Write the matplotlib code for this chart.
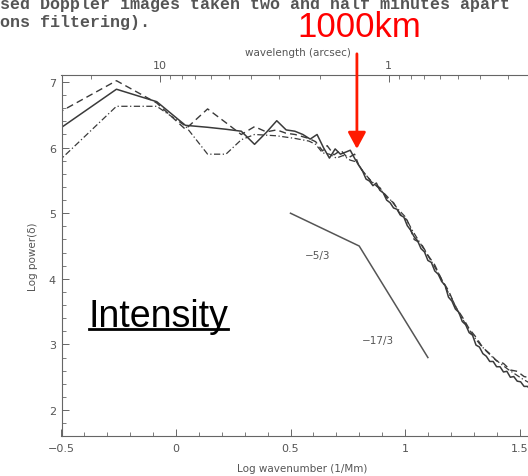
import matplotlib
matplotlib.use("Agg")
import matplotlib.pyplot as plt
from matplotlib.lines import Line2D
from matplotlib.ticker import MultipleLocator
import numpy as np

# ---------------- data ----------------
solid_x = [-0.561, -0.26, -0.084, 0.041, 0.138, 0.218, 0.285, 0.343, 0.394, 0.44,
           0.481, 0.519, 0.554, 0.586, 0.616, 0.644, 0.67, 0.695, 0.718, 0.74,
           0.761, 0.781, 0.80, 0.815, 0.83, 0.845, 0.86, 0.875, 0.89, 0.905,
           0.92, 0.935, 0.95, 0.965, 0.98, 0.995, 1.01, 1.025, 1.04, 1.055,
           1.07, 1.085, 1.10, 1.115, 1.13, 1.145, 1.16, 1.175, 1.19, 1.205,
           1.22, 1.235, 1.25, 1.265, 1.28, 1.295, 1.31, 1.325, 1.34, 1.355,
           1.37, 1.385, 1.40, 1.415, 1.43, 1.445, 1.46, 1.475, 1.49, 1.505,
           1.52, 1.535, 1.55, 1.565, 1.58, 1.60]
solid_y = [6.16, 6.89, 6.70, 6.34, 6.31, 6.28, 6.25, 6.05, 6.23, 6.41,
           6.27, 6.25, 6.20, 6.13, 6.20, 6.00, 5.84, 5.98, 5.90, 5.93,
           5.96, 5.83, 5.72, 5.64, 5.52, 5.49, 5.42, 5.46, 5.35, 5.31,
           5.20, 5.16, 5.08, 5.06, 4.97, 4.94, 4.81, 4.74, 4.64, 4.58,
           4.46, 4.41, 4.28, 4.25, 4.12, 4.07, 3.96, 3.90, 3.72, 3.66,
           3.54, 3.49, 3.35, 3.30, 3.18, 3.14, 2.99, 2.96, 2.86, 2.82,
           2.74, 2.74, 2.66, 2.66, 2.58, 2.59, 2.50, 2.51, 2.44, 2.43,
           2.36, 2.36, 2.30, 2.29, 2.23, 2.20]

dash_x = [-0.561, -0.26, -0.084, 0.041, 0.138, 0.218, 0.285, 0.343, 0.394, 0.44,
          0.48, 0.52, 0.55, 0.58, 0.61, 0.64, 0.66, 0.69, 0.72, 0.75,
          0.78, 0.80, 0.83, 0.86, 0.89, 0.92, 0.95, 0.98, 1.01, 1.04,
          1.07, 1.10, 1.13, 1.16, 1.19, 1.22, 1.25, 1.28, 1.31, 1.34,
          1.37, 1.40, 1.43, 1.46, 1.49, 1.52, 1.55, 1.58, 1.60]
dash_y = [6.44, 7.02, 6.68, 6.28, 6.59, 6.38, 6.20, 6.32, 6.24, 6.27,
          6.22, 6.20, 6.17, 6.14, 6.09, 5.95, 6.03, 5.89, 5.96, 5.84,
          5.90, 5.71, 5.58, 5.45, 5.39, 5.24, 5.16, 4.98, 4.89, 4.60,
          4.54, 4.36, 4.21, 3.99, 3.82, 3.58, 3.42, 3.24, 3.11, 2.95,
          2.86, 2.75, 2.71, 2.61, 2.59, 2.51, 2.49, 2.41, 2.40]

dot_x = [-0.561, -0.26, -0.084, 0.041, 0.138, 0.218, 0.285, 0.343, 0.394, 0.44,
         0.48, 0.52, 0.55, 0.58, 0.61, 0.64, 0.67, 0.70, 0.73, 0.76,
         0.79, 0.82, 0.85, 0.88, 0.91, 0.94, 0.97, 1.00, 1.03, 1.06,
         1.09, 1.12, 1.15, 1.18, 1.21, 1.24, 1.27, 1.30, 1.33, 1.36,
         1.39, 1.42, 1.45, 1.48, 1.51, 1.54, 1.57, 1.60]
dot_y = [5.63, 6.63, 6.63, 6.33, 5.90, 5.90, 6.12, 6.20, 6.19, 6.18,
         6.16, 6.14, 6.12, 6.10, 6.05, 5.92, 5.90, 5.84, 5.88, 5.81,
         5.78, 5.62, 5.50, 5.40, 5.30, 5.19, 5.06, 4.95, 4.75, 4.58,
         4.41, 4.24, 4.06, 3.85, 3.66, 3.45, 3.28, 3.12, 2.99, 2.88,
         2.78, 2.70, 2.62, 2.55, 2.48, 2.42, 2.36, 2.30]

slope_x = [0.5, 0.8, 1.1]
slope_y = [5.0, 4.5, 2.8]
slope_labels = ["\u22125/3", "\u221217/3"]
slope_label_x = [0.62, 0.883]
slope_label_y = [4.36, 3.07]

xticks_major = [-0.5, 0, 0.5, 1, 1.5]
xtick_labels = ["\u22120.5", "0", "0.5", "1", "1.5"]
yticks_major = [2, 3, 4, 5, 6, 7]

wl_major = [10, 1]
wl_major_labels = ["10", "1"]
wl_minor = [20, 9, 8, 7, 6, 5, 4, 3, 2, 0.9, 0.8, 0.7, 0.6, 0.5, 0.4, 0.3]
MM_PER_ARCSEC = 0.74

# ---------------- figure ----------------
W, H = 528, 477
fig = plt.figure(figsize=(W / 100, H / 100), dpi=100)
fig.patch.set_facecolor("white")

def fx(px):
    return px / W

def fy(py):
    return 1 - py / H

ax_left, ax_right, ax_top, ax_bottom = 61.5, 542.4, 76, 437
ax = fig.add_axes([fx(ax_left), fy(ax_bottom), (ax_right - ax_left) / W, (ax_bottom - ax_top) / H])
ax.set_xlim(-0.5, 1.6)
ax.set_ylim(1.604, 7.107)

gray = "#555555"
line_col = "#3a3a3a"

ax.plot(solid_x, solid_y, color=line_col, lw=1.1, ls="-")
ax.plot(dash_x, dash_y, color=line_col, lw=1.0, ls=(0, (5, 3)))
ax.plot(dot_x, dot_y, color=line_col, lw=0.9, ls=(0, (5, 2, 1, 2)))
ax.plot(slope_x, slope_y, color="#555555", lw=1.1)
for t, x, y in zip(slope_labels, slope_label_x, slope_label_y):
    ax.text(x, y, t, fontsize=7.5, color=gray, ha="center", va="center")

for s in ax.spines.values():
    s.set_color("#666666")
    s.set_linewidth(0.8)

ax.set_xticks(xticks_major)
ax.set_xticklabels(xtick_labels)
ax.set_yticks(yticks_major)
ax.xaxis.set_minor_locator(MultipleLocator(0.1))
ax.yaxis.set_minor_locator(MultipleLocator(0.2))
ax.tick_params(which="both", direction="in", colors="#666666", labelcolor=gray,
               labelsize=8, top=False, right=False)
ax.tick_params(which="major", length=5, width=0.7)
ax.tick_params(which="minor", length=3, width=0.6)
ax.tick_params(axis="x", pad=5)
ax.tick_params(axis="y", pad=4)

ax.set_xlabel("Log wavenumber (1/Mm)", fontsize=7.5, color=gray)
ax.xaxis.set_label_coords(0.5, -0.075)
ax.set_ylabel("Log power(\u03b4)", fontsize=7.5, color=gray)
ax.yaxis.set_label_coords(-0.059, 0.5)
ax.yaxis.label.set_va("center")

# top axis: wavelength in arcsec
def wl_to_logk(wl):
    return np.log10(2 * np.pi / (np.asarray(wl, dtype=float) * MM_PER_ARCSEC))

ax2 = ax.twiny()
ax2.set_xlim(ax.get_xlim())
ax2.set_xticks(wl_to_logk(wl_major))
ax2.set_xticklabels(wl_major_labels)
ax2.set_xticks(wl_to_logk(wl_minor), minor=True)
ax2.tick_params(which="both", direction="in", colors="#666666", labelcolor=gray,
                labelsize=8, pad=3.5)
ax2.tick_params(which="major", length=5, width=0.7)
ax2.tick_params(which="minor", length=3, width=0.6)
for s in ax2.spines.values():
    s.set_visible(False)
ax2.set_xlabel("wavelength (arcsec)", fontsize=7.5, color=gray)
ax2.xaxis.set_label_coords(0.492, 1.055)

# scanned page text above the figure
fig.text(fx(0), fy(9), "sed Doppler images taken two and half minutes apart",
         family="Liberation Mono", fontsize=12, fontweight="bold", color="#555555",
         ha="left", va="baseline")
fig.text(fx(0), fy(27), "ons filtering).",
         family="Liberation Mono", fontsize=12, fontweight="bold", color="#555555",
         ha="left", va="baseline")

# red annotation
fig.text(fx(359.5), fy(37), "1000km", family="Liberation Sans", fontsize=25,
         color="#ff0000", ha="center", va="baseline")
ax.annotate("", xy=(0.79, 5.98), xytext=(0.79, 7.43), xycoords="data",
            annotation_clip=False,
            arrowprops=dict(arrowstyle="-|>,head_length=0.5,head_width=0.27",
                            color="#ff1a00", lw=2, mutation_scale=20,
                            shrinkA=0, shrinkB=0))

# Intensity label with underline
fig.text(fx(89), fy(327), "Intensity", family="Liberation Sans", fontsize=27,
         color="black", ha="left", va="baseline")
fig.add_artist(Line2D([fx(89), fx(228)], [fy(330), fy(330)], color="black",
                      lw=2, transform=fig.transFigure))

fig.savefig("out.png", dpi=100)
